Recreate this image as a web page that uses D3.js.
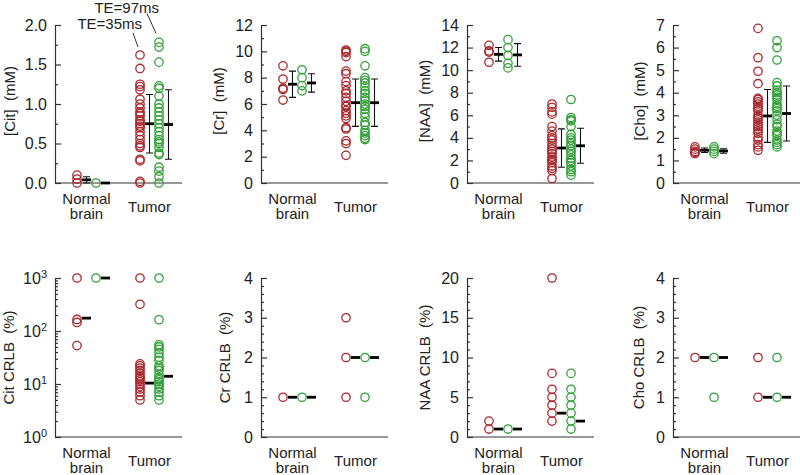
<!DOCTYPE html>
<html>
<head>
<meta charset="utf-8">
<script src="https://cdn.jsdelivr.net/npm/d3@7"></script>
<style>
    body { margin: 0; background: #fff; }
    text { font-family: "Liberation Sans", Arial, sans-serif; fill: #222; }
</style>
</head>
<body>
<svg id="chart" width="800" height="475"></svg>
<script>
const groups = ["Normal brain", "Tumor"];
const echoes = ["TE=35ms", "TE=97ms"];

// concentrations (mM)
const citNormal35 = [0.10, 0.05, 0.0];
const citNormal97 = [0.0];
const citTumor35 = [1.62, 1.45, 1.25, 1.22, 1.18, 1.06, 1.0, 0.95, 0.9, 0.88, 0.85, 0.8, 0.78, 0.75, 0.72, 0.7, 0.65, 0.6, 0.55, 0.5, 0.47, 0.45, 0.3, 0.28, 0.02, 0.0];
const citTumor97 = [1.78, 1.72, 1.53, 1.23, 1.2, 1.1, 1.0, 0.95, 0.9, 0.85, 0.8, 0.75, 0.7, 0.65, 0.6, 0.55, 0.52, 0.5, 0.45, 0.38, 0.36, 0.2, 0.15, 0.08, 0.0];
const citMean = [[0.04, 0.0], [0.75, 0.74]];
const citSD = [[0.04, 0.0], [0.37, 0.44]];

const crNormal35 = [8.9, 7.9, 7.2, 7.1, 6.3];
const crNormal97 = [8.6, 8.0, 7.4, 7.0];
const crTumor35 = [10.1, 10.0, 9.9, 9.6, 8.5, 8.3, 7.7, 7.4, 7.0, 6.8, 6.5, 6.2, 5.9, 5.8, 5.5, 5.3, 5.1, 4.9, 4.2, 4.1, 3.2, 3.0, 2.1];
const crTumor97 = [10.2, 10.0, 8.9, 8.0, 7.8, 7.6, 7.3, 7.0, 6.8, 6.5, 6.3, 6.0, 5.8, 5.6, 5.3, 5.0, 4.6, 4.4, 4.0, 3.8, 3.6, 3.4, 3.3];
const crMean = [[7.5, 7.6], [6.1, 6.1]];
const crSD = [[1.0, 0.7], [1.8, 1.8]];

const naaNormal35 = [12.2, 11.7, 11.6, 10.7];
const naaNormal97 = [12.7, 12.0, 11.3, 10.6, 10.2];
const naaTumor35 = [7.0, 6.7, 6.3, 6.1, 5.0, 4.6, 4.2, 4.0, 3.8, 3.5, 3.2, 3.0, 2.8, 2.6, 2.3, 2.1, 2.0, 1.8, 1.5, 1.3, 1.1, 0.4];
const naaTumor97 = [7.4, 5.8, 5.6, 5.5, 5.0, 4.3, 4.0, 3.8, 3.5, 3.3, 3.0, 2.8, 2.5, 2.2, 2.0, 1.8, 1.5, 1.2, 1.0, 0.7];
const naaMean = [[11.4, 11.35], [3.1, 3.3]];
const naaSD = [[0.6, 1.0], [1.7, 1.55]];

const choNormal35 = [1.6, 1.5, 1.4, 1.35, 1.3];
const choNormal97 = [1.6, 1.5, 1.4, 1.3];
const choTumor35 = [6.85, 5.55, 4.95, 4.4, 3.75, 3.7, 3.6, 3.5, 3.4, 3.3, 3.2, 3.0, 2.9, 2.8, 2.7, 2.6, 2.5, 2.4, 2.3, 2.2, 2.0, 1.9, 1.7, 1.6, 1.45];
const choTumor97 = [6.3, 6.0, 5.45, 4.45, 4.3, 4.1, 4.0, 3.9, 3.8, 3.7, 3.5, 3.4, 3.3, 3.2, 3.0, 2.8, 2.6, 2.5, 2.3, 2.2, 2.1, 1.9, 1.8, 1.7, 1.6];
const choMean = [[1.45, 1.42], [2.97, 3.08]];
const choSD = [[0.1, 0.1], [1.17, 1.22]];

// CRLB (%)
const citCrlbNormal35 = [1000, 165, 145, 53];
const citCrlbNormal97 = [1000];
const citCrlbTumor35 = [1000, 320, 24, 22, 20, 18, 16, 14, 13, 12, 11, 10, 9, 8, 7, 6, 5];
const citCrlbTumor97 = [1000, 163, 55, 50, 45, 38, 32, 28, 22, 20, 18, 15, 13, 12, 11, 10, 9, 8, 7, 6, 5];
const citCrlbMedian = [[175, 1000], [10.4, 14]];

const crCrlbNormal35 = [1];
const crCrlbNormal97 = [1];
const crCrlbTumor35 = [3, 2, 1];
const crCrlbTumor97 = [2, 1];
const crCrlbMedian = [[1, 1], [2, 2]];

const naaCrlbNormal35 = [2, 1];
const naaCrlbNormal97 = [1];
const naaCrlbTumor35 = [20, 8, 6, 5, 4, 3, 2];
const naaCrlbTumor97 = [8, 6, 5, 4, 3, 2, 1];
const naaCrlbMedian = [[1, 1], [3, 2]];

const choCrlbNormal35 = [2];
const choCrlbNormal97 = [2, 1];
const choCrlbTumor35 = [2, 1];
const choCrlbTumor97 = [2, 1];
const choCrlbMedian = [[2, 2], [1, 1]];

const colors = ["#a8292e", "#33a03a"];
const panelX = [55, 261, 467, 673];
const plotW = 127;
const rows = [[25, 183], [278, 437]];

const panels = [
    {row: 0, col: 0, title: "[Cit]  (mM)", titleDx: 40, domain: [0, 2], major: 0.5, minor: 0.25, fmt: d3.format(".1f"),
        data: [[citNormal35, citNormal97], [citTumor35, citTumor97]], centre: citMean, spread: citSD, note: true},
    {row: 0, col: 1, title: "[Cr]  (mM)", titleDx: 37, domain: [0, 12], major: 2, minor: 1, fmt: d3.format("d"),
        data: [[crNormal35, crNormal97], [crTumor35, crTumor97]], centre: crMean, spread: crSD},
    {row: 0, col: 2, title: "[NAA]  (mM)", titleDx: 37, domain: [0, 14], major: 2, minor: 1, fmt: d3.format("d"),
        data: [[naaNormal35, naaNormal97], [naaTumor35, naaTumor97]], centre: naaMean, spread: naaSD},
    {row: 0, col: 3, title: "[Cho]  (mM)", titleDx: 28, domain: [0, 7], major: 1, minor: 0.5, fmt: d3.format("d"),
        data: [[choNormal35, choNormal97], [choTumor35, choTumor97]], centre: choMean, spread: choSD},
    {row: 1, col: 0, title: "Cit CRLB  (%)", titleDx: 41, domain: [1, 1000], log: true,
        data: [[citCrlbNormal35, citCrlbNormal97], [citCrlbTumor35, citCrlbTumor97]], centre: citCrlbMedian},
    {row: 1, col: 1, title: "Cr CRLB  (%)", titleDx: 31, domain: [0, 4], major: 1, minor: 0.2, fmt: d3.format("d"),
        data: [[crCrlbNormal35, crCrlbNormal97], [crCrlbTumor35, crCrlbTumor97]], centre: crCrlbMedian},
    {row: 1, col: 2, title: "NAA CRLB  (%)", titleDx: 37, domain: [0, 20], major: 5, minor: 1, fmt: d3.format("d"),
        data: [[naaCrlbNormal35, naaCrlbNormal97], [naaCrlbTumor35, naaCrlbTumor97]], centre: naaCrlbMedian},
    {row: 1, col: 3, title: "Cho CRLB  (%)", titleDx: 29, domain: [0, 4], major: 1, minor: 0.2, fmt: d3.format("d"),
        data: [[choCrlbNormal35, choCrlbNormal97], [choCrlbTumor35, choCrlbTumor97]], centre: choCrlbMedian}
];

const gx = d3.scalePoint().domain(groups).range([31.5, 94.5]);
const ex = d3.scalePoint().domain(echoes).range([-9.5, 9.5]);

function styleAxis(g) {
    g.attr("font-size", 16).attr("font-family", null);
    g.selectAll("line, path").attr("stroke", "#333").attr("stroke-width", 1.2);
    g.selectAll("text").attr("fill", "#222");
}

function drawPanel(svg, p) {
    const [top, bottom] = rows[p.row];
    const g = svg.append("g").attr("transform", `translate(${panelX[p.col]},0)`);

    let y, majors, minors;
    if (p.log) {
        y = d3.scaleLog().domain(p.domain).range([bottom, top]);
        majors = [1, 10, 100, 1000];
        minors = [];
        [1, 10, 100].forEach((dec) => d3.range(2, 10).forEach((m) => minors.push(dec * m)));
    } else {
        y = d3.scaleLinear().domain(p.domain).range([bottom, top]);
        majors = d3.range(p.domain[0], p.domain[1] + 1e-9, p.major);
        minors = d3.range(p.domain[0], p.domain[1] + 1e-9, p.minor)
            .filter((v) => Math.abs(v / p.major - Math.round(v / p.major)) > 1e-6);
    }

    // minor ticks
    g.append("g")
        .call(d3.axisLeft(y).tickValues(minors).tickSizeInner(-3).tickSizeOuter(0).tickFormat(""))
        .call(styleAxis)
        .select(".domain").remove();

    // major ticks + labels
    const ax = g.append("g")
        .call(d3.axisLeft(y).tickValues(majors).tickSizeInner(-6).tickSizeOuter(0).tickPadding(8)
            .tickFormat(p.log ? () => "10" : p.fmt))
        .call(styleAxis);
    if (p.log) {
        ax.selectAll(".tick text").each(function (d) {
            d3.select(this).append("tspan")
                .attr("dy", "-0.55em")
                .attr("font-size", 11)
                .text(Math.round(Math.log10(d)));
        });
    }

    // x axis line
    g.append("line")
        .attr("x1", 0).attr("x2", plotW)
        .attr("y1", bottom).attr("y2", bottom)
        .attr("stroke", "#333").attr("stroke-width", 1.2);

    // y title
    const midY = (top + bottom) / 2 - (p.row === 0 ? 3 : 0);
    g.append("text")
        .attr("transform", `translate(${-p.titleDx},${midY}) rotate(-90)`)
        .attr("text-anchor", "middle")
        .attr("font-size", 15)
        .style("white-space", "pre")
        .text(p.title);

    // category labels
    groups.forEach((name) => {
        const words = name.split(" ");
        const offs = words.length > 1 ? [21, 36] : [29];
        words.forEach((w, i) => {
            g.append("text")
                .attr("x", gx(name))
                .attr("y", bottom + offs[i])
                .attr("text-anchor", "middle")
                .attr("font-size", 15)
                .text(w);
        });
    });

    // points, means and error bars
    groups.forEach((name, gi) => {
        echoes.forEach((te, ei) => {
            const cx = gx(name) + ex(te);
            g.append("g")
                .selectAll("circle")
                .data(p.data[gi][ei])
                .join("circle")
                .attr("cx", cx)
                .attr("cy", (d) => y(d))
                .attr("r", 4.2)
                .attr("fill", "none")
                .attr("stroke", colors[ei])
                .attr("stroke-width", 1.3);

            const bx = cx + 9.5;
            if (p.spread && p.spread[gi][ei] > 0) {
                const m = p.centre[gi][ei], s = p.spread[gi][ei];
                const lo = y(Math.max(m - s, p.domain[0])), hi = y(m + s);
                g.append("path")
                    .attr("d", `M${bx},${lo}V${hi}M${bx - 3.5},${lo}H${bx + 3.5}M${bx - 3.5},${hi}H${bx + 3.5}`)
                    .attr("stroke", "#111")
                    .attr("stroke-width", 1.1)
                    .attr("fill", "none");
            }
            g.append("line")
                .attr("x1", cx + 5).attr("x2", cx + 14)
                .attr("y1", y(p.centre[gi][ei])).attr("y2", y(p.centre[gi][ei]))
                .attr("stroke", "#000")
                .attr("stroke-width", 2.8);
        });
    });

    if (p.note) {
        const tumor = p.data[1];
        echoes.forEach((te, ei) => {
            const cx = gx("Tumor") + ex(te);
            const ty = y(d3.max(tumor[ei]));
            const a = ei === 0 ? {x1: -7, y1: -22, x2: -2, y2: -8, tx: 2, ty: -26}
                : {x1: -12, y1: -29, x2: -3, y2: -9, tx: 0, ty: -29};
            g.append("line")
                .attr("x1", cx + a.x1).attr("y1", ty + a.y1)
                .attr("x2", cx + a.x2).attr("y2", ty + a.y2)
                .attr("stroke", "#333").attr("stroke-width", 1);
            g.append("text")
                .attr("x", cx + a.tx).attr("y", ty + a.ty)
                .attr("text-anchor", "end")
                .attr("font-size", 15)
                .text(te);
        });
    }
}

function main() {
    const svg = d3.select("#chart");
    panels.forEach((p) => drawPanel(svg, p));
}

main();
</script>
</body>
</html>
